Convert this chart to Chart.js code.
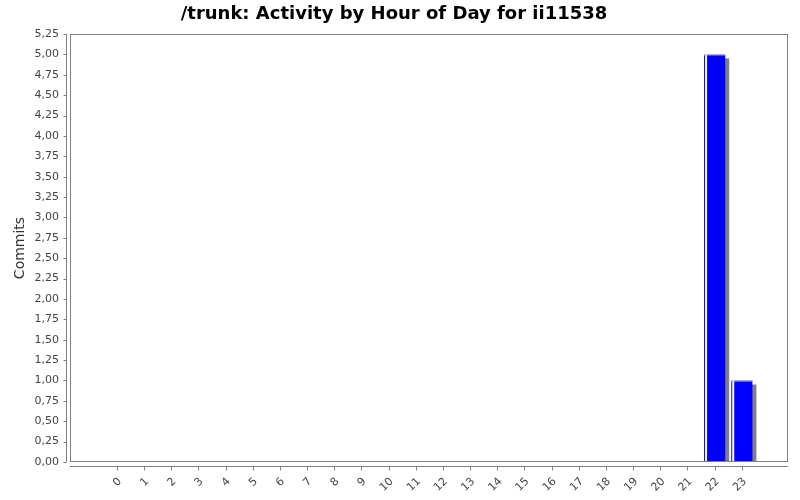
<!DOCTYPE html>
<html>
<head>
<meta charset="utf-8">
<script src="https://cdn.jsdelivr.net/npm/chart.js@4.4.1/dist/chart.umd.min.js"></script>
<style>
  html, body { margin: 0; padding: 0; background: #fff; }
  #wrap { width: 800px; height: 500px; }
</style>
</head>
<body>
<div id="wrap"><canvas id="hour-chart"></canvas></div>
<script>
// data
const hours = ["0", "1", "2", "3", "4", "5", "6", "7", "8", "9", "10", "11",
  "12", "13", "14", "15", "16", "17", "18", "19", "20", "21", "22", "23"];
const commits = [0, 0, 0, 0, 0, 0, 0, 0, 0, 0, 0, 0,
  0, 0, 0, 0, 0, 0, 0, 0, 0, 0, 5, 1];
const yTicks = [0, 0.25, 0.5, 0.75, 1, 1.25, 1.5, 1.75, 2, 2.25, 2.5, 2.75,
  3, 3.25, 3.5, 3.75, 4, 4.25, 4.5, 4.75, 5, 5.25];

const FONT = "DejaVu Sans";

// plot frame, offset axes, bar shadows and highlight stripe (JFreeChart look)
const jfreeLook = {
  id: "jfreeLook",
  beforeDatasetsDraw(chart) {
    const ctx = chart.ctx, area = chart.chartArea;
    ctx.save();
    ctx.beginPath();
    ctx.rect(area.left, area.top, area.right - area.left, area.bottom - area.top);
    ctx.clip();
    ctx.fillStyle = "#808080";
    chart.getDatasetMeta(0).data.forEach((bar, i) => {
      if (!commits[i]) return;
      const w = bar.width;
      ctx.fillRect(bar.x - w / 2 + 4, bar.y + 4, w, bar.base - bar.y);
    });
    ctx.restore();
  },
  afterDatasetsDraw(chart) {
    const ctx = chart.ctx;
    ctx.save();
    chart.getDatasetMeta(0).data.forEach((bar, i) => {
      if (!commits[i]) return;
      const l = bar.x - bar.width / 2;
      ctx.fillStyle = "#ffffff";
      ctx.fillRect(l + 1, bar.y, 2, bar.base - bar.y);
      ctx.fillStyle = "#c8c8ff";
      ctx.fillRect(l, bar.y, bar.width, 1);
    });
    ctx.restore();
  },
  afterDraw(chart) {
    const ctx = chart.ctx, a = chart.chartArea;
    const xs = chart.scales.x, ys = chart.scales.y;
    ctx.save();
    ctx.strokeStyle = "#808080";
    ctx.lineWidth = 1;
    ctx.strokeRect(a.left + 0.5, a.top + 0.5, a.right - a.left - 1, a.bottom - a.top - 1);
    // y axis line + ticks
    const ax = a.left - 3.5;
    ctx.beginPath();
    ctx.moveTo(ax, a.top);
    ctx.lineTo(ax, a.bottom);
    yTicks.forEach(v => {
      const py = Math.round(ys.getPixelForValue(v)) + 0.5;
      ctx.moveTo(ax - 3, py);
      ctx.lineTo(ax, py);
    });
    // x axis line + ticks
    const ay = a.bottom + 4.5;
    ctx.moveTo(a.left, ay);
    ctx.lineTo(a.right, ay);
    hours.forEach((h, i) => {
      const px = Math.round(xs.getPixelForValue(i)) + 0.5;
      ctx.moveTo(px, ay);
      ctx.lineTo(px, ay + 4);
    });
    ctx.stroke();
    ctx.restore();
  }
};

new Chart(document.getElementById("hour-chart").getContext("2d"), {
  type: "bar",
  data: {
    datasets: [{
      label: "Commits",
      data: hours.map((h, i) => ({ x: i, y: commits[i] })),
      backgroundColor: "#0000ff",
      borderWidth: 0,
      categoryPercentage: 1,
      barPercentage: 0.78
    }]
  },
  options: {
    responsive: true,
    maintainAspectRatio: false,
    animation: false,
    layout: {
      padding: { left: 0, right: 12, top: 0, bottom: 0 }
    },
    plugins: {
      legend: { display: false },
      tooltip: { enabled: false },
      title: {
        display: true,
        text: "/trunk: Activity by Hour of Day for ii11538",
        color: "#000",
        font: { family: FONT, size: 18, weight: "bold", lineHeight: 1.2 },
        padding: { top: 4, bottom: 8.4 }
      }
    },
    scales: {
      x: {
        type: "linear",
        min: -1.73,
        max: 24.7,
        offset: false,
        afterBuildTicks(scale) {
          scale.ticks = hours.map((h, i) => ({ value: i }));
        },
        afterFit(scale) { scale.height = 38; },
        grid: { display: false, drawTicks: false },
        border: { display: false },
        ticks: {
          autoSkip: false,
          minRotation: 45,
          maxRotation: 45,
          padding: 13,
          labelOffset: 3,
          color: "#444",
          font: { family: FONT, size: 11 },
          callback: (v) => hours[v]
        }
      },
      y: {
        min: 0,
        max: 5.25,
        afterBuildTicks(scale) {
          scale.ticks = yTicks.map(v => ({ value: v }));
        },
        afterFit(scale) { scale.width = 70; },
        grid: { display: false, drawTicks: false },
        border: { display: false },
        ticks: {
          autoSkip: false,
          padding: 11,
          color: "#444",
          font: { family: FONT, size: 11 },
          callback: (v) => v.toFixed(2).replace(".", ",")
        },
        title: {
          display: true,
          text: "Commits",
          color: "#333",
          font: { family: FONT, size: 14 },
          padding: { top: 12, bottom: 0 }
        }
      }
    }
  },
  plugins: [jfreeLook]
});
</script>
</body>
</html>
